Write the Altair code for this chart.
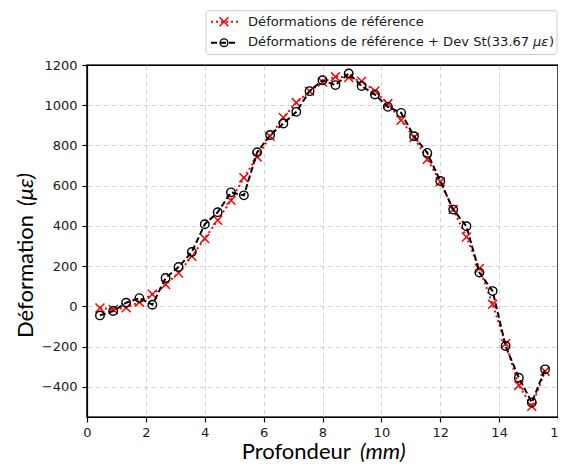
import altair as alt
import pandas as pd

# ---- data ----
depth = [0.44, 0.89, 1.33, 1.78, 2.22, 2.67, 3.11, 3.56, 4.00, 4.44, 4.89, 5.33,
         5.78, 6.22, 6.67, 7.11, 7.56, 8.00, 8.44, 8.89, 9.33, 9.78, 10.22, 10.67,
         11.11, 11.56, 12.00, 12.44, 12.89, 13.33, 13.78, 14.22, 14.67, 15.11, 15.56]
ref = [-8, -15, -7, 21, 60, 109, 166, 249, 337, 428, 527, 640,
       743, 846, 939, 1013, 1070, 1115, 1141, 1138, 1119, 1071, 1008, 925,
       840, 731, 620, 481, 345, 188, 10, -186, -393, -497, -322]
dev = [-45, -23, 18, 41, 8, 141, 196, 270, 408, 468, 567, 552,
       766, 852, 909, 967, 1070, 1124, 1100, 1158, 1095, 1053, 992, 962,
       846, 763, 623, 481, 398, 168, 76, -197, -355, -478, -313]
x_ticks = [0, 2, 4, 6, 8, 10, 12, 14, 16]
y_ticks = [-400, -200, 0, 200, 400, 600, 800, 1000, 1200]
legend_labels = ["Déformations de référence", "Déformations de référence + Dev St(33.67"]

df = pd.DataFrame({"x": depth, "ref": ref, "dev": dev})
one = alt.Data(values=[{"a": 1}])

W, H = 471, 352
XPATH = "M-1,-1L1,1M-1,1L1,-1"

x_grid_op = {"condition": {"test": "datum.value <= 0 || datum.value >= 16", "value": 0}, "value": 1}
y_grid_op = {"condition": {"test": "datum.value >= 1200", "value": 0}, "value": 1}

def xenc():
    return alt.X("x:Q", scale=alt.Scale(domain=[0, 16], nice=False, zero=False),
                 axis=alt.Axis(values=x_ticks, title=None, grid=True, labelPadding=4,
                               labelFlush=False, labelOverlap=False, format="d",
                               gridOpacity=x_grid_op))

def yenc(field):
    return alt.Y(f"{field}:Q", scale=alt.Scale(domain=[-550, 1200], nice=False, zero=False),
                 axis=alt.Axis(values=y_ticks, title=None, grid=True, labelPadding=5,
                               labelFlush=False, labelOverlap=False, format="d",
                               gridOpacity=y_grid_op))

base = alt.Chart(df)
red_line = base.mark_line(color="#ff0000", strokeDash=[2, 3], strokeWidth=2).encode(x=xenc(), y=yenc("ref"))
red_pts = base.mark_point(shape=XPATH, size=80, filled=False, color="#ff0000", strokeWidth=1.5, opacity=1).encode(x=xenc(), y=yenc("ref"))
blk_line = base.mark_line(color="#000000", strokeDash=[6, 3], strokeWidth=2).encode(x=xenc(), y=yenc("dev"))
blk_pts = base.mark_point(shape="circle", size=72, filled=False, color="#000000", strokeWidth=1.4, opacity=1).encode(x=xenc(), y=yenc("dev"))

# solid frame drawn above the grid
frame = alt.Chart(one).mark_rect(fillOpacity=0, stroke="#000000", strokeWidth=1.2).encode(
    x=alt.value(0), x2=alt.value(W), y=alt.value(0), y2=alt.value(H))

# ---- manual legend ----
leg_box = alt.Chart(one).mark_rect(fill="white", stroke="#cccccc", strokeWidth=1, cornerRadius=3).encode(
    x=alt.value(119), x2=alt.value(470), y=alt.value(-54.3), y2=alt.value(-10.5))
leg_r1 = alt.Chart(one).mark_rule(color="#ff0000", strokeDash=[2, 3], strokeWidth=2).encode(
    x=alt.value(124), x2=alt.value(151), y=alt.value(-43.3))
leg_p1 = alt.Chart(one).mark_point(shape=XPATH, size=80, filled=False, color="#ff0000", strokeWidth=1.5, opacity=1).encode(
    x=alt.value(137), y=alt.value(-43.3))
leg_r2 = alt.Chart(one).mark_rule(color="#000000", strokeDash=[6, 3], strokeWidth=2).encode(
    x=alt.value(124), x2=alt.value(151), y=alt.value(-22.3))
leg_p2 = alt.Chart(one).mark_point(shape="circle", size=60, filled=False, color="#000000", strokeWidth=1.4, opacity=1).encode(
    x=alt.value(137), y=alt.value(-22.3))

def txt(s, x, y, size=13.1, font="DejaVu Sans", style="normal", angle=0, color="#1a1a1a"):
    return alt.Chart(one).mark_text(text=s, font=font, fontSize=size, fontStyle=style, angle=angle,
                                    align="left", baseline="alphabetic", color=color).encode(
        x=alt.value(x), y=alt.value(y))

leg_t1 = txt(legend_labels[0], 161, -39)
leg_t2 = txt(legend_labels[1], 161, -19)
leg_t3 = txt("με", 446, -19, style="italic")
leg_t4 = txt(")", 462, -19)

# ---- axis titles (mixed upright / italic) ----
xt1 = txt("Profondeur", 154.7, 394, size=22, font="Lato", color="#000000")
xt2 = txt("(mm)", 273, 394, size=22, font="Lato", style="italic", color="#000000")
yt1 = txt("Déformation", -54, 273, size=22, font="Lato", angle=270, color="#000000")
yt2 = txt("(με)", -54, 141, size=22, font="Lato", style="italic", angle=270, color="#000000")

chart = alt.layer(
    red_line, red_pts, blk_line, blk_pts, frame,
    leg_box, leg_r1, leg_p1, leg_r2, leg_p2, leg_t1, leg_t2, leg_t3, leg_t4,
    xt1, xt2, yt1, yt2,
).properties(
    width=W, height=H,
    autosize=alt.AutoSizeParams(type="none"),
    padding={"left": 79, "top": 57, "right": 0, "bottom": 46},
).configure_view(
    stroke="#000000", strokeWidth=1.2
).configure_axis(
    domainColor="#000000", domainWidth=1.2, tickColor="#000000", tickSize=5, tickWidth=1.2,
    labelFont="DejaVu Sans", labelFontSize=13, labelColor="#1a1a1a",
    gridColor="#d4d4d4", gridDash=[5, 3], gridWidth=1,
)

chart.save("out.html", embed_options={"renderer": "svg", "actions": False})
